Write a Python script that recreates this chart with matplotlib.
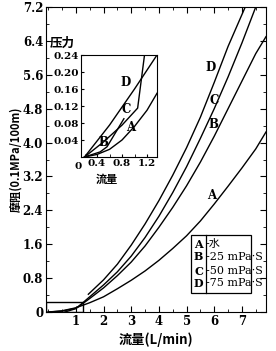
import matplotlib.pyplot as plt
from matplotlib.patches import Rectangle
from matplotlib.ticker import MultipleLocator, FixedLocator

# main chart data (flow L/min vs friction 0.1MPa/100m)
xa = [0, 0.5, 1, 1.5, 2, 2.5, 3, 3.5, 4, 4.5, 5, 5.5, 6, 6.5, 7, 7.5, 7.87]
ya = [0, 0.03, 0.1, 0.22, 0.36, 0.55, 0.75, 0.97, 1.22, 1.5, 1.8, 2.15, 2.55, 2.97, 3.4, 3.85, 4.25]
xb = [0, 0.5, 1, 1.25, 1.5, 2, 2.5, 3, 3.5, 4, 4.5, 5, 5.5, 6, 6.5, 7, 7.5, 7.87]
yb = [0, 0.02, 0.09, 0.2, 0.32, 0.57, 0.86, 1.18, 1.56, 2.0, 2.47, 2.98, 3.54, 4.15, 4.8, 5.45, 6.1, 6.5]
xc = [0.6, 1, 1.25, 1.5, 2, 2.5, 3, 3.5, 4, 4.5, 5, 5.5, 6, 6.5, 7, 7.5]
yc = [0, 0.08, 0.22, 0.36, 0.64, 0.95, 1.32, 1.76, 2.26, 2.82, 3.43, 4.1, 4.8, 5.55, 6.35, 7.2]
xd = [1.45, 2, 2.5, 3, 3.5, 4, 4.5, 5, 5.5, 6, 6.5, 7.12]
yd = [0.42, 0.76, 1.13, 1.58, 2.08, 2.63, 3.23, 3.88, 4.6, 5.42, 6.27, 7.2]

# inset (low flow region)
ia_x = [0.2, 0.4, 0.6, 0.8, 1.0, 1.2, 1.36]
ia_y = [0, 0.006, 0.018, 0.04, 0.072, 0.11, 0.15]
ib_x = [0.2, 0.45, 0.56, 0.83]
ib_y = [0, 0.012, 0.024, 0.09]
ic_x = [0.2, 0.5, 0.8, 1.05, 1.16]
ic_y = [0, 0.035, 0.075, 0.115, 0.24]
id_x = [0.2, 0.6, 1.0, 1.36]
id_y = [0, 0.075, 0.16, 0.24]

legend_keys = ["A", "B", "C", "D"]
legend_text = ["水", "25 mPa·S", "50 mPa·S", "75 mPa·S"]

serif = ["DejaVu Serif", "Noto Sans CJK SC"]
cjk = ["Noto Sans CJK SC", "DejaVu Sans"]

fig = plt.figure(figsize=(2.76, 3.51), dpi=100)
ax = fig.add_axes([0.1667, 0.111, 0.797, 0.869])

for x, y in [(xa, ya), (xb, yb), (xc, yc), (xd, yd)]:
    ax.plot(x, y, color="black", lw=1.0)

ax.add_patch(Rectangle((-0.08, 0), 1.33, 0.24, fill=False, lw=1.0, ec="black"))

ax.set_xlim(-0.08, 7.87)
ax.set_ylim(0, 7.2)
ax.xaxis.set_major_locator(FixedLocator([1, 2, 3, 4, 5, 6, 7]))
ax.xaxis.set_minor_locator(MultipleLocator(0.5))
ax.set_yticks([0, 0.8, 1.6, 2.4, 3.2, 4.0, 4.8, 5.6, 6.4, 7.2])
ax.set_yticklabels(["0", "0.8", "1.6", "2.4", "3.2", "4.0", "4.8", "5.6", "6.4", "7.2"])
ax.yaxis.set_minor_locator(MultipleLocator(0.4))
ax.tick_params(which="both", direction="in", top=True, right=True, labelsize=8.5, pad=2)
ax.tick_params(which="major", length=4)
ax.tick_params(which="minor", length=2.5)
for lab in ax.get_xticklabels() + ax.get_yticklabels():
    lab.set_fontfamily(serif)
    lab.set_fontweight("bold")

ax.set_xlabel("流量(L/min)", family=cjk, fontsize=9.5, fontweight="bold", labelpad=3)
ax.set_ylabel("摩阻(0.1MPa/100m)", family=cjk, fontsize=8, fontweight="bold", labelpad=0)

for t, x, y in [("A", 5.9, 2.75), ("B", 5.98, 4.42), ("C", 6.0, 5.0), ("D", 5.88, 5.78)]:
    ax.text(x, y, t, family=serif, fontsize=8.5, fontweight="bold", ha="center", va="center")

# legend box
ax.add_patch(Rectangle((5.16, 0.45), 2.17, 1.37, fill=False, lw=0.9, ec="black"))
ax.plot([5.7, 5.7], [0.45, 1.82], color="black", lw=0.9)
rows = [1.6, 1.3, 0.96, 0.68]
for k, s, yy in zip(legend_keys, legend_text, rows):
    ax.text(5.43, yy, k, family=serif, fontsize=8, fontweight="bold", ha="center", va="center")
    ax.text(5.7, yy, "-" + s, family=serif, fontsize=8, ha="left", va="center")

# inset
ins = fig.add_axes([0.2935, 0.5527, 0.2754, 0.2906])
for x, y in [(ia_x, ia_y), (ib_x, ib_y), (ic_x, ic_y), (id_x, id_y)]:
    ins.plot(x, y, color="black", lw=1.0)
ins.set_xlim(0.144, 1.36)
ins.set_ylim(0, 0.24)
ins.set_xticks([0.4, 0.8, 1.2])
ins.set_xticklabels(["0.4", "0.8", "1.2"])
ins.set_yticks([0.04, 0.08, 0.12, 0.16, 0.2, 0.24])
ins.set_yticklabels(["0.04", "0.08", "0.12", "0.16", "0.20", "0.24"])
ins.xaxis.set_minor_locator(MultipleLocator(0.2))
ins.tick_params(which="both", direction="in", labelsize=7.5, pad=1.5, length=2.5)
for lab in ins.get_xticklabels() + ins.get_yticklabels():
    lab.set_fontfamily(serif)
    lab.set_fontweight("bold")
ins.text(0.15, -0.012, "0", family=serif, fontsize=7.5, fontweight="bold", ha="right", va="top")
ins.text(-0.36, 0.268, "压力", family=cjk, fontsize=9, fontweight="bold", ha="left", va="center")
ins.text(0.55, -0.052, "流量", family=cjk, fontsize=8, fontweight="bold", ha="center", va="center")
for t, x, y in [("D", 0.85, 0.175), ("C", 0.87, 0.112), ("B", 0.51, 0.035), ("A", 0.94, 0.07)]:
    ins.text(x, y, t, family=serif, fontsize=8.5, fontweight="bold", ha="center", va="center")

fig.savefig("out.png", dpi=100)
